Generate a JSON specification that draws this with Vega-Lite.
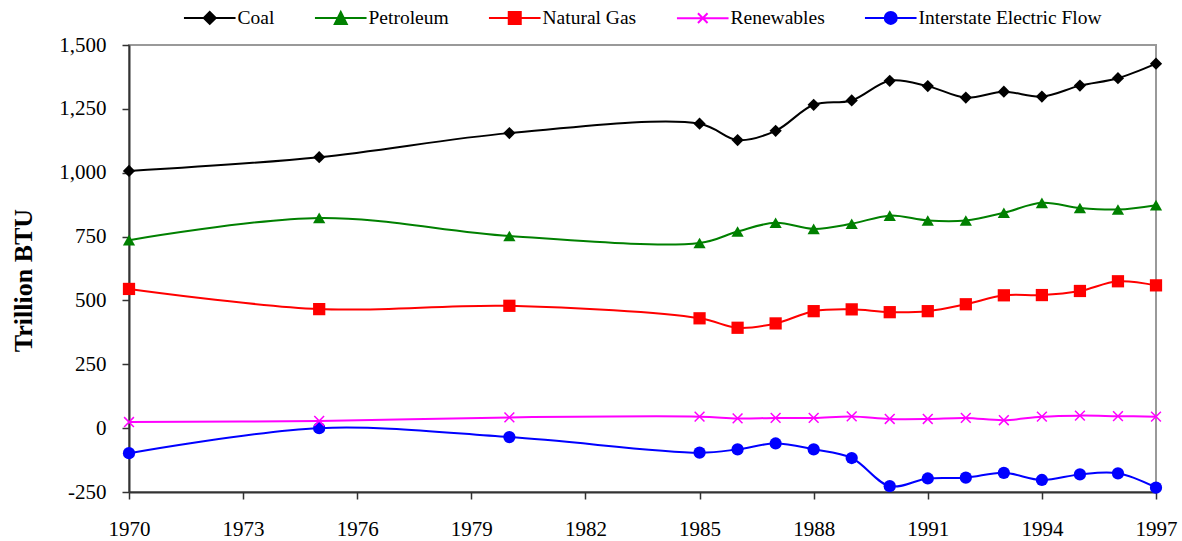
{
  "$schema": "https://vega.github.io/schema/vega-lite/v6.json",
  "autosize": {"type": "none"},
  "padding": {"left": 129, "top": 45, "right": 26, "bottom": 49},
  "width": 1027,
  "height": 447,
  "background": "white",
  "config": {
    "view": {"stroke": "#999999", "strokeWidth": 2},
    "font": "Liberation Serif",
    "axis": {"labelFont": "Liberation Serif", "titleFont": "Liberation Serif", "labelColor": "#000", "titleColor": "#000", "domainColor": "#333", "domainWidth": 2, "tickColor": "#333", "tickWidth": 1.5, "grid": false}
  },
  "data": {"values": [
    {"year": 1970, "series": "Coal", "value": 1007},
    {"year": 1975, "series": "Coal", "value": 1061},
    {"year": 1980, "series": "Coal", "value": 1155},
    {"year": 1985, "series": "Coal", "value": 1192},
    {"year": 1986, "series": "Coal", "value": 1128},
    {"year": 1987, "series": "Coal", "value": 1164},
    {"year": 1988, "series": "Coal", "value": 1266},
    {"year": 1989, "series": "Coal", "value": 1283},
    {"year": 1990, "series": "Coal", "value": 1360},
    {"year": 1991, "series": "Coal", "value": 1339},
    {"year": 1992, "series": "Coal", "value": 1294},
    {"year": 1993, "series": "Coal", "value": 1317},
    {"year": 1994, "series": "Coal", "value": 1298},
    {"year": 1995, "series": "Coal", "value": 1341},
    {"year": 1996, "series": "Coal", "value": 1370},
    {"year": 1997, "series": "Coal", "value": 1427},
    {"year": 1970, "series": "Petroleum", "value": 736},
    {"year": 1975, "series": "Petroleum", "value": 823},
    {"year": 1980, "series": "Petroleum", "value": 752},
    {"year": 1985, "series": "Petroleum", "value": 725},
    {"year": 1986, "series": "Petroleum", "value": 770},
    {"year": 1987, "series": "Petroleum", "value": 804},
    {"year": 1988, "series": "Petroleum", "value": 780},
    {"year": 1989, "series": "Petroleum", "value": 800},
    {"year": 1990, "series": "Petroleum", "value": 832},
    {"year": 1991, "series": "Petroleum", "value": 813},
    {"year": 1992, "series": "Petroleum", "value": 813},
    {"year": 1993, "series": "Petroleum", "value": 843},
    {"year": 1994, "series": "Petroleum", "value": 882},
    {"year": 1995, "series": "Petroleum", "value": 862},
    {"year": 1996, "series": "Petroleum", "value": 856},
    {"year": 1997, "series": "Petroleum", "value": 873},
    {"year": 1970, "series": "Natural Gas", "value": 545},
    {"year": 1975, "series": "Natural Gas", "value": 466},
    {"year": 1980, "series": "Natural Gas", "value": 479},
    {"year": 1985, "series": "Natural Gas", "value": 430},
    {"year": 1986, "series": "Natural Gas", "value": 393},
    {"year": 1987, "series": "Natural Gas", "value": 410},
    {"year": 1988, "series": "Natural Gas", "value": 458},
    {"year": 1989, "series": "Natural Gas", "value": 465},
    {"year": 1990, "series": "Natural Gas", "value": 454},
    {"year": 1991, "series": "Natural Gas", "value": 458},
    {"year": 1992, "series": "Natural Gas", "value": 485},
    {"year": 1993, "series": "Natural Gas", "value": 520},
    {"year": 1994, "series": "Natural Gas", "value": 521},
    {"year": 1995, "series": "Natural Gas", "value": 537},
    {"year": 1996, "series": "Natural Gas", "value": 575},
    {"year": 1997, "series": "Natural Gas", "value": 559},
    {"year": 1970, "series": "Renewables", "value": 24},
    {"year": 1975, "series": "Renewables", "value": 28},
    {"year": 1980, "series": "Renewables", "value": 42},
    {"year": 1985, "series": "Renewables", "value": 45},
    {"year": 1986, "series": "Renewables", "value": 38},
    {"year": 1987, "series": "Renewables", "value": 40},
    {"year": 1988, "series": "Renewables", "value": 40},
    {"year": 1989, "series": "Renewables", "value": 46},
    {"year": 1990, "series": "Renewables", "value": 36},
    {"year": 1991, "series": "Renewables", "value": 36},
    {"year": 1992, "series": "Renewables", "value": 40},
    {"year": 1993, "series": "Renewables", "value": 31},
    {"year": 1994, "series": "Renewables", "value": 45},
    {"year": 1995, "series": "Renewables", "value": 49},
    {"year": 1996, "series": "Renewables", "value": 47},
    {"year": 1997, "series": "Renewables", "value": 45},
    {"year": 1970, "series": "Interstate Electric Flow", "value": -98},
    {"year": 1975, "series": "Interstate Electric Flow", "value": 0},
    {"year": 1980, "series": "Interstate Electric Flow", "value": -35},
    {"year": 1985, "series": "Interstate Electric Flow", "value": -96},
    {"year": 1986, "series": "Interstate Electric Flow", "value": -83},
    {"year": 1987, "series": "Interstate Electric Flow", "value": -60},
    {"year": 1988, "series": "Interstate Electric Flow", "value": -83},
    {"year": 1989, "series": "Interstate Electric Flow", "value": -117},
    {"year": 1990, "series": "Interstate Electric Flow", "value": -227},
    {"year": 1991, "series": "Interstate Electric Flow", "value": -197},
    {"year": 1992, "series": "Interstate Electric Flow", "value": -194},
    {"year": 1993, "series": "Interstate Electric Flow", "value": -175},
    {"year": 1994, "series": "Interstate Electric Flow", "value": -203},
    {"year": 1995, "series": "Interstate Electric Flow", "value": -181},
    {"year": 1996, "series": "Interstate Electric Flow", "value": -177},
    {"year": 1997, "series": "Interstate Electric Flow", "value": -233}
  ]},
  "encoding": {
    "x": {"field": "year", "type": "quantitative",
      "scale": {"domain": [1970, 1997], "nice": false, "zero": false},
      "axis": {"title": null, "values": [1970, 1973, 1976, 1979, 1982, 1985, 1988, 1991, 1994, 1997], "format": "d", "labelFontSize": 21, "tickSize": 7, "labelPadding": 19, "labelFlush": false}},
    "y": {"field": "value", "type": "quantitative",
      "scale": {"domain": [-250, 1500], "nice": false, "zero": false},
      "axis": {"title": "Trillion BTU", "titleFontSize": 26, "titleFontWeight": "bold", "titlePadding": 22, "titleY": 235, "values": [-250, 0, 250, 500, 750, 1000, 1250, 1500], "format": ",.0f", "labelExpr": "replace(datum.label, '\u2212', '-')", "labelFontSize": 21, "tickSize": 7, "labelPadding": 16}},
    "color": {"field": "series", "type": "nominal",
      "scale": {"domain": ["Coal", "Petroleum", "Natural Gas", "Renewables", "Interstate Electric Flow"], "range": ["#000000", "#008000", "#ff0000", "#ff00ff", "#0000ff"]},
      "legend": {"orient": "none", "legendX": 71, "legendY": -37, "direction": "horizontal", "title": null,
        "labelFont": "Liberation Serif", "labelFontSize": 19.5, "labelColor": "#000", "labelLimit": 400, "symbolSize": 144, "labelOffset": 18, "columnPadding": 35,
        "symbolStrokeWidth": 2,
        "encode": {"symbols": {"update": {
          "shape": {"signal": "datum.value==='Coal'?'M-4.3,0H4.3M0,-1L1,0L0,1L-1,0Z':datum.value==='Petroleum'?'M-4.3,0H4.3M0,-1L1,1L-1,1Z':datum.value==='Natural Gas'?'M-4.3,0H4.3M-1,-1H1V1H-1Z':datum.value==='Renewables'?'M-4.3,0H4.3M-0.8,-0.8L0.8,0.8M0.8,-0.8L-0.8,0.8':'M-4.3,0H4.3M-1,0A1,1,0,1,0,1,0A1,1,0,1,0,-1,0Z'"},
          "fill": {"signal": "datum.value==='Coal'?'#000000':datum.value==='Petroleum'?'#008000':datum.value==='Natural Gas'?'#ff0000':datum.value==='Renewables'?'#ff00ff':'#0000ff'"},
          "stroke": {"signal": "datum.value==='Coal'?'#000000':datum.value==='Petroleum'?'#008000':datum.value==='Natural Gas'?'#ff0000':datum.value==='Renewables'?'#ff00ff':'#0000ff'"},
          "strokeWidth": {"value": 2},
          "opacity": {"value": 1}
        }}}}
    },
    "detail": {"field": "series"}
  },
  "layer": [
    {"mark": {"type": "line", "interpolate": "catmull-rom", "strokeWidth": 2}},
    {"transform": [{"filter": "datum.series !== 'Renewables'"}],
     "mark": {"type": "point", "filled": true, "opacity": 1, "size": 150},
     "encoding": {"shape": {"field": "series", "type": "nominal", "legend": null,
       "scale": {"domain": ["Coal", "Petroleum", "Natural Gas", "Interstate Electric Flow"], "range": ["diamond", "triangle-up", "square", "circle"]}}}},
    {"transform": [{"filter": "datum.series === 'Renewables'"}],
     "mark": {"type": "point", "filled": false, "opacity": 1, "size": 150, "strokeWidth": 1.5, "shape": "M-0.8,-0.8L0.8,0.8M0.8,-0.8L-0.8,0.8"}}
  ]
}
